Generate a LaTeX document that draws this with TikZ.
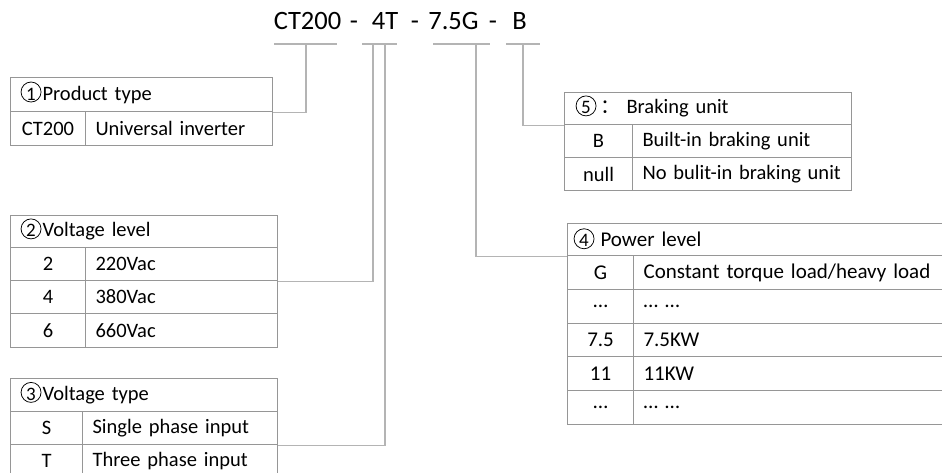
\documentclass[tikz,border=0pt]{standalone}
\usepackage{fontspec}
\setmainfont{Carlito}
\newfontfamily\cjkfont{Noto Sans CJK SC}
\definecolor{tabline}{RGB}{150,150,150}
\definecolor{connline}{RGB}{180,180,180}
\newcommand\cnum[1]{\makebox[22pt][l]{\rlap{\tikz[overlay]\draw[draw=black,line width=0.75pt] (10.5pt,8pt) circle[radius=10pt];}\makebox[21pt][c]{\fontsize{19}{20}\selectfont #1}}}
\tikzset{
  cell/.style={draw=tabline, line width=1.1pt, anchor=north west, inner ysep=0pt, font=\fontsize{20.5}{24}\selectfont},
  bigcell/.style={cell, font=\fontsize{21}{24}\selectfont},
  lc/.style={align=left, inner xsep=10pt},
  cc/.style={align=center, inner xsep=4pt},
  title/.style={anchor=base, inner sep=0pt, font=\fontsize{26.5}{30}\selectfont},
  conn/.style={draw=connline, line width=1.1pt},
}
\begin{document}
\begin{tikzpicture}[x=1pt,y=1pt]
\useasboundingbox (0,0) rectangle (942,-473);
\clip (0,0) rectangle (942,-473);
% title
\node[title] (t1) at (307.5,-30) {CT200};
\node[title] (t2) at (354,-30) {-};
\node[title] (t3) at (385,-30) {4T};
\node[title] (t4) at (415,-30) {-};
\node[title] (t5) at (453.5,-30) {7.5G};
\node[title] (t6) at (493,-30) {-};
\node[title] (t7) at (519.5,-30) {B};
% underline coordinates
\coordinate (u1a) at (274,-44); \coordinate (u1b) at (337,-44);
\coordinate (u2a) at (362,-44); \coordinate (u2b) at (397,-44);
\coordinate (u3a) at (433,-44); \coordinate (u3b) at (490,-44);
\coordinate (u4a) at (506,-44); \coordinate (u4b) at (540,-44);
\coordinate (s1) at (306,-44);
\coordinate (s2) at (373,-44);
\coordinate (s3) at (385,-44);
\coordinate (s4) at (476,-44);
\coordinate (s5) at (523,-44);
\draw[conn] (u1a) -- (u1b);
\draw[conn] (u2a) -- (u2b);
\draw[conn] (u3a) -- (u3b);
\draw[conn] (u4a) -- (u4b);
% table 1
\node[cell,lc,minimum height=34pt,text width=242pt] (h1) at (10,-77) {\cnum{1}Product type};
\node[cell,cc,minimum height=34pt,text width=67pt] (a11) at (10,-111) {CT200};
\node[cell,lc,minimum height=34pt,text width=167pt] (b11) at (85,-111) {Universal inverter};
% table 2
\node[cell,lc,minimum height=32pt,text width=247pt] (h2) at (10,-215) {\cnum{2}Voltage level};
\node[cell,cc,minimum height=33pt,text width=67pt] (a21) at (10,-247) {2};
\node[cell,lc,minimum height=33pt,text width=172pt] (b21) at (85,-247) {220Vac};
\node[cell,cc,minimum height=33pt,text width=67pt] (a22) at (10,-280) {4};
\node[cell,lc,minimum height=33pt,text width=172pt] (b22) at (85,-280) {380Vac};
\node[cell,cc,minimum height=34pt,text width=67pt] (a23) at (10,-313) {6};
\node[cell,lc,minimum height=34pt,text width=172pt] (b23) at (85,-313) {660Vac};
% table 3
\node[cell,lc,minimum height=33pt,text width=247pt] (h3) at (10,-378) {\cnum{3}Voltage type};
\node[cell,cc,minimum height=33pt,text width=64pt] (a31) at (10,-411) {S};
\node[cell,lc,minimum height=33pt,text width=175pt] (b31) at (82,-411) {Single phase input};
\node[cell,cc,minimum height=33pt,text width=64pt] (a32) at (10,-444) {T};
\node[cell,lc,minimum height=33pt,text width=175pt] (b32) at (82,-444) {Three phase input};
% table 4
\node[bigcell,lc,inner xsep=6pt,minimum height=32pt,text width=381pt] (h4) at (567,-223) {\cnum{4}\hspace{5pt}Power level};
\node[bigcell,cc,minimum height=34pt,text width=58pt] (a41) at (567,-255) {G};
\node[bigcell,lc,minimum height=34pt,text width=307pt] (b41) at (633,-255) {Constant torque load/heavy load};
\node[bigcell,cc,minimum height=34pt,text width=58pt] (a42) at (567,-289) {…};
\node[bigcell,lc,minimum height=34pt,text width=307pt] (b42) at (633,-289) {… …};
\node[bigcell,cc,minimum height=33pt,text width=58pt] (a43) at (567,-323) {7.5};
\node[bigcell,lc,minimum height=33pt,text width=307pt] (b43) at (633,-323) {7.5KW};
\node[bigcell,cc,minimum height=34pt,text width=58pt] (a44) at (567,-356) {11};
\node[bigcell,lc,minimum height=34pt,text width=307pt] (b44) at (633,-356) {11KW};
\node[bigcell,cc,minimum height=34pt,text width=58pt] (a45) at (567,-390) {…};
\node[bigcell,lc,minimum height=34pt,text width=307pt] (b45) at (633,-390) {… …};
% table 5
\node[cell,lc,inner xsep=11pt,minimum height=32pt,text width=265pt] (h5) at (564,-92) {\cnum{5}\hspace{3pt}{\cjkfont\fontsize{20}{23}\selectfont ：}\hspace{6pt}Braking unit};
\node[cell,cc,minimum height=33pt,text width=60pt] (a51) at (564,-124) {B};
\node[cell,lc,minimum height=33pt,text width=199pt] (b51) at (632,-124) {Built-in braking unit};
\node[cell,cc,minimum height=33pt,text width=60pt] (a52) at (564,-157) {null};
\node[cell,lc,minimum height=33pt,text width=199pt] (b52) at (632,-157) {\mbox{No bulit-in braking unit}};
% connectors
\draw[conn] (s1) |- (h1.south east);
\draw[conn] (s2) |- (b21.south east);
\draw[conn] (s3) |- (b31.south east);
\draw[conn] (s4) |- (h4.south west);
\draw[conn] (s5) |- (h5.south west);
\end{tikzpicture}
\end{document}
